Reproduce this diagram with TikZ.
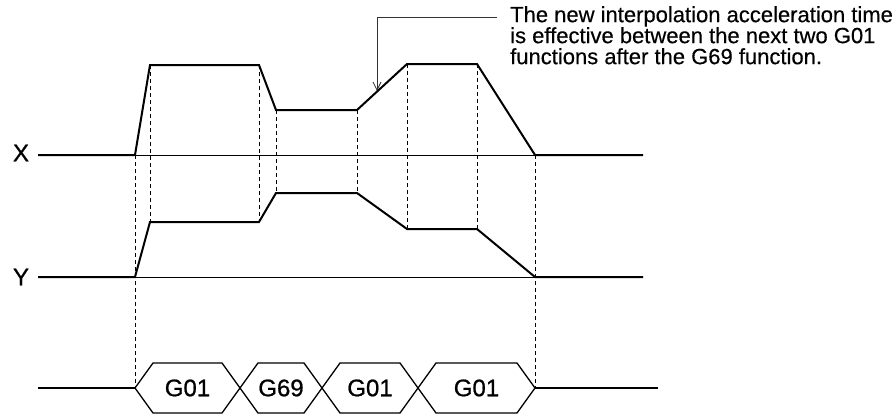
\documentclass[tikz,border=0pt]{standalone}
\usepackage{fontspec}
\setmainfont{Liberation Sans}
\newfontfamily\labelfont[FakeBold=0.8]{Liberation Sans}
\newfontfamily\notefont[FakeBold=0.4]{Liberation Sans}
\usetikzlibrary{arrows.meta,calc}
\begin{document}
\begin{tikzpicture}[
	x=1pt, y=-1pt,
	axis/.style={ line width=0.8pt },
	wave/.style={ line width=2pt, line join=miter },
	guide/.style={ line width=0.7pt, dash pattern=on 4pt off 3pt },
	hexa/.style={ line width=1.3pt, line join=miter },
	lbl/.style={ font=\labelfont\fontsize{24}{24}\selectfont, inner sep=0pt },
	note/.style={ font=\notefont\fontsize{22}{21}\selectfont, align=left, inner sep=0pt, anchor=north west },
	leader/.style={ line width=0.8pt, black!80, -{Straight Barb[length=8pt,width=8pt]} }
]
\useasboundingbox (0,0) rectangle (892,415);

% axis names
\node at (21,153) (xname) [lbl] {X};
\node at (21,277) (yname) [lbl] {Y};

% X axis
\coordinate (x0) at (38,155);
\coordinate (x1) at (135,155);
\coordinate (x2) at (150,65);
\coordinate (x3) at (259,65);
\coordinate (x4) at (276,110);
\coordinate (x5) at (357,110);
\coordinate (x6) at (407,64);
\coordinate (x7) at (477,64);
\coordinate (x8) at (535,155);
\coordinate (x9) at (643,155);
\draw[axis] (x1) -- (x8);
\draw[wave] (x0) -- (x1) -- (x2) -- (x3) -- (x4) -- (x5) -- (x6) -- (x7) -- (x8) -- (x9);

% Y axis
\coordinate (y0) at (38,277);
\coordinate (y1) at (135,277);
\coordinate (y2) at (150,222);
\coordinate (y3) at (259,222);
\coordinate (y4) at (276,193);
\coordinate (y5) at (357,193);
\coordinate (y6) at (407,229);
\coordinate (y7) at (477,229);
\coordinate (y8) at (535,277);
\coordinate (y9) at (643,277);
\draw[axis] (y1) -- (y8);
\draw[wave] (y0) -- (y1) -- (y2) -- (y3) -- (y4) -- (y5) -- (y6) -- (y7) -- (y8) -- (y9);

% block sequence
\coordinate (b0) at (38,388);
\coordinate (c1) at (135,388);
\coordinate (c2) at (240,388);
\coordinate (c3) at (322,388);
\coordinate (c4) at (418,388);
\coordinate (c5) at (535,388);
\coordinate (b6) at (658,388);
\draw[hexa] (b0) -- (c1);
\draw[hexa] (c5) -- (b6);
\foreach \a/\b/\txt/\n in {c1/c2/G01/ga, c2/c3/G69/gb, c3/c4/G01/gc, c4/c5/G01/gd} {
	\draw[hexa] (\a) -- ($(\a)+(18,-25)$) -- ($(\b)+(-18,-25)$) -- (\b)
		-- ($(\b)+(-18,25)$) -- ($(\a)+(18,25)$) -- cycle;
	\node at ($(\a)!0.5!(\b)$) (\n) [lbl] {\txt};
}

% guides
\foreach \p/\q in {x1/c1, x2/y2, x3/y3, x4/y4, x5/y5, x6/y6, x7/y7, x8/c5}
	\draw[guide] (\p) -- (\q);

% note
\node at (510,6) (notetext) [note] {The new interpolation acceleration time\\is effective between the next two G01\\functions after the G69 function.};
\coordinate (notestart) at (497,17);
\coordinate (notebend) at (377,17);
\coordinate (notetip) at (377,91);
\draw[leader] (notestart) -- (notebend) -- (notetip);

\end{tikzpicture}
\end{document}
